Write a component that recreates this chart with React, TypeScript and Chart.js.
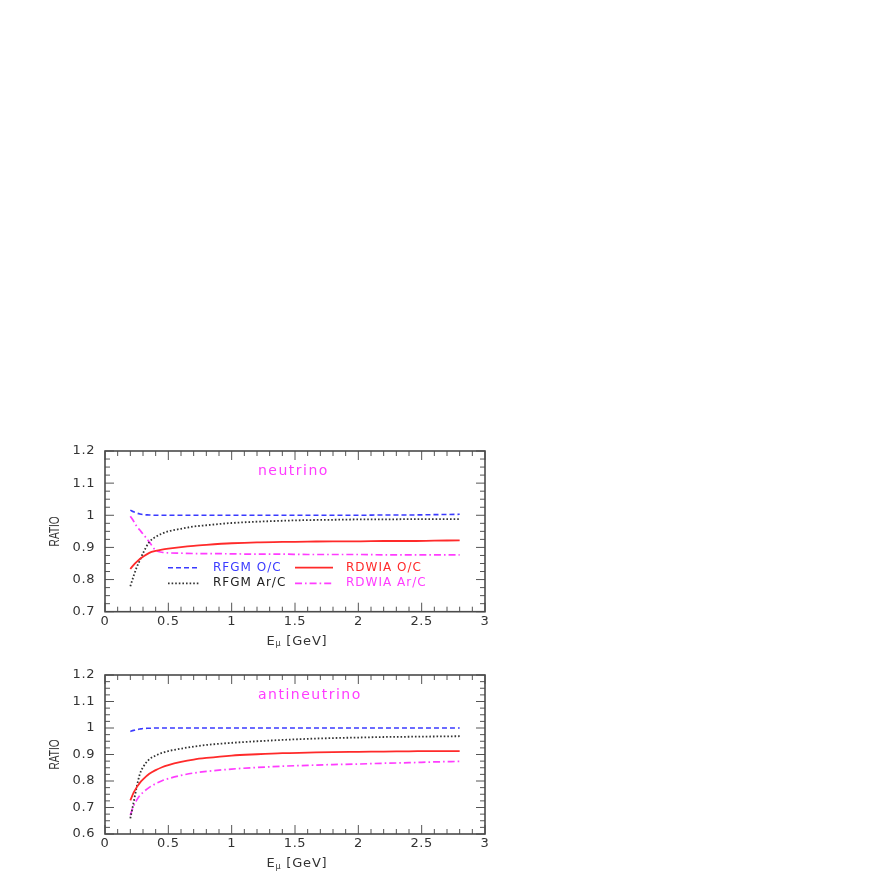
import React, { useEffect, useRef } from "react";
import { Chart, registerables } from "chart.js";

Chart.register(...registerables);

// ---------- data ----------
const energies = [0.2, 0.225, 0.25, 0.275, 0.3, 0.35, 0.4, 0.45, 0.5, 0.6, 0.7, 0.8, 1.0, 1.2, 1.4, 1.6, 1.8, 2.0, 2.2, 2.4, 2.6, 2.8];

const seriesNames = ["RFGM O/C", "RDWIA O/C", "RFGM Ar/C", "RDWIA Ar/C"];

// neutrino panel
const nuRfgmOC = [1.016, 1.011, 1.007, 1.004, 1.002, 1.001, 1.0, 1.0, 1.0, 1.0, 1.0, 1.0, 1.0, 1.0, 1.0, 1.0, 1.0, 1.0, 1.001, 1.001, 1.002, 1.003];
const nuRdwiaOC = [0.833, 0.845, 0.855, 0.864, 0.871, 0.883, 0.889, 0.893, 0.896, 0.901, 0.905, 0.908, 0.913, 0.916, 0.917, 0.918, 0.919, 0.919, 0.92, 0.92, 0.921, 0.922];
const nuRfgmArC = [0.779, 0.81, 0.838, 0.86, 0.882, 0.917, 0.933, 0.943, 0.95, 0.958, 0.965, 0.969, 0.976, 0.98, 0.983, 0.985, 0.986, 0.987, 0.987, 0.988, 0.988, 0.988];
const nuRdwiaArC = [0.997, 0.982, 0.966, 0.954, 0.942, 0.917, 0.891, 0.885, 0.883, 0.882, 0.881, 0.881, 0.88, 0.879, 0.879, 0.878, 0.878, 0.878, 0.877, 0.877, 0.877, 0.877];

// antineutrino panel
const anuRfgmOC = [0.987, 0.991, 0.994, 0.996, 0.998, 0.999, 1.0, 1.0, 1.0, 1.0, 1.0, 1.0, 1.0, 1.0, 1.0, 1.0, 1.0, 1.0, 1.0, 1.0, 1.0, 1.0];
const anuRdwiaOC = [0.727, 0.755, 0.776, 0.793, 0.806, 0.827, 0.841, 0.852, 0.86, 0.872, 0.881, 0.887, 0.896, 0.901, 0.905, 0.907, 0.909, 0.91, 0.911, 0.912, 0.913, 0.913];
const anuRfgmArC = [0.659, 0.717, 0.777, 0.826, 0.852, 0.882, 0.896, 0.906, 0.913, 0.922, 0.93, 0.936, 0.944, 0.95, 0.955, 0.959, 0.962, 0.964, 0.966, 0.967, 0.968, 0.969];
const anuRdwiaArC = [0.671, 0.705, 0.728, 0.745, 0.757, 0.776, 0.79, 0.801, 0.809, 0.821, 0.83, 0.836, 0.845, 0.851, 0.856, 0.859, 0.862, 0.864, 0.867, 0.869, 0.872, 0.874];

// ticks
const xTickValues = [0, 0.5, 1, 1.5, 2, 2.5, 3];
const xTickLabels = ["0", "0.5", "1", "1.5", "2", "2.5", "3"];
const yTickValuesNu = [0.7, 0.8, 0.9, 1.0, 1.1, 1.2];
const yTickLabelsNu = ["0.7", "0.8", "0.9", "1", "1.1", "1.2"];
const yTickValuesAnu = [0.6, 0.7, 0.8, 0.9, 1.0, 1.1, 1.2];
const yTickLabelsAnu = ["0.6", "0.7", "0.8", "0.9", "1", "1.1", "1.2"];

// ---------- styles ----------
const lineStyles = [
  { color: "#3a3aff", dash: [5, 3], width: 1.6 },
  { color: "#ff2a2a", dash: [] as number[], width: 1.8 },
  { color: "#333333", dash: [1.6, 2], width: 1.8 },
  { color: "#ff3cff", dash: [7, 3, 1.6, 3], width: 1.7 },
];
const legendTextColors = ["#3a3aff", "#ff2a2a", "#222222", "#ff3cff"];

const TICK_FONT = { family: "'DejaVu Sans'", size: 13 };

type Panel = {
  key: string;
  title: string;
  yMin: number;
  yMax: number;
  yTicks: number[];
  yLabels: string[];
  series: number[][];
  legend: boolean;
  padTop: number;
  xAxisH: number;
};

const panels: Panel[] = [
  {
    key: "nu",
    title: "neutrino",
    yMin: 0.7,
    yMax: 1.2,
    yTicks: yTickValuesNu,
    yLabels: yTickLabelsNu,
    series: [nuRfgmOC, nuRdwiaOC, nuRfgmArC, nuRdwiaArC],
    legend: true,
    padTop: 21,
    xAxisH: 38.3,
  },
  {
    key: "anu",
    title: "antineutrino",
    yMin: 0.6,
    yMax: 1.2,
    yTicks: yTickValuesAnu,
    yLabels: yTickLabelsAnu,
    series: [anuRfgmOC, anuRdwiaOC, anuRfgmArC, anuRdwiaArC],
    legend: false,
    padTop: 20,
    xAxisH: 38,
  },
];

function framePlugin(p: Panel) {
  return {
    id: "frame_" + p.key,
    beforeDraw(chart: any) {
      (chart.ctx as any).letterSpacing = "0.6px";
    },
    afterDatasetsDraw(chart: any) {
      const ctx: CanvasRenderingContext2D = chart.ctx;
      const a = chart.chartArea;
      const xs = chart.scales.x;
      const ys = chart.scales.y;
      ctx.save();
      (ctx as any).letterSpacing = "0px";
      // ticks (inward, all four sides)
      ctx.strokeStyle = "#555";
      ctx.lineWidth = 1;
      ctx.setLineDash([]);
      ctx.beginPath();
      for (let i = 0; i <= 30; i++) {
        const px = xs.getPixelForValue(i / 10);
        const L = i % 5 === 0 ? 9 : 5;
        ctx.moveTo(px, a.bottom);
        ctx.lineTo(px, a.bottom - L);
        ctx.moveTo(px, a.top);
        ctx.lineTo(px, a.top + L);
      }
      const n = Math.round((p.yMax - p.yMin) / 0.025);
      for (let k = 0; k <= n; k++) {
        const py = ys.getPixelForValue(p.yMin + k * 0.025);
        const L = k % 4 === 0 ? 9 : 5;
        ctx.moveTo(a.left, py);
        ctx.lineTo(a.left + L, py);
        ctx.moveTo(a.right, py);
        ctx.lineTo(a.right - L, py);
      }
      ctx.stroke();
      // frame
      ctx.lineWidth = 1.6;
      ctx.strokeStyle = "#4a4a4a";
      ctx.strokeRect(a.left, a.top, a.right - a.left, a.bottom - a.top);

      // y title
      ctx.save();
      ctx.translate(55.3, (a.top + a.bottom) / 2);
      ctx.rotate(-Math.PI / 2);
      ctx.scale(0.72, 1);
      ctx.font = "14px 'Liberation Sans'";
      ctx.fillStyle = "#333";
      ctx.textAlign = "center";
      ctx.textBaseline = "middle";
      ctx.fillText("RATIO", 0, 0);
      ctx.restore();

      // x title: E_mu [GeV]
      (ctx as any).letterSpacing = "0.8px";
      ctx.fillStyle = "#333";
      ctx.textBaseline = "middle";
      ctx.textAlign = "left";
      const f1 = "13px 'DejaVu Sans'";
      const f2 = "8px 'DejaVu Sans'";
      ctx.font = f1;
      const wE = ctx.measureText("E").width;
      const wRest = ctx.measureText(" [GeV]").width;
      ctx.font = f2;
      const wMu = ctx.measureText("\u03bc").width;
      const total = wE + wMu + wRest;
      let tx = (a.left + a.right) / 2 - total / 2 + 2;
      const ty = a.bottom + 29.5;
      ctx.font = f1;
      ctx.fillText("E", tx, ty);
      tx += wE;
      ctx.font = f2;
      ctx.fillText("\u03bc", tx, ty + 3);
      tx += wMu;
      ctx.font = f1;
      ctx.fillText(" [GeV]", tx, ty);

      // panel label
      (ctx as any).letterSpacing = "1.5px";
      ctx.font = "14px 'DejaVu Sans'";
      ctx.fillStyle = "#ff3cff";
      ctx.fillText(p.title, a.left + 153, a.top + 20.5);

      // legend
      if (p.legend) {
        (ctx as any).letterSpacing = "1px";
        ctx.font = "12px 'DejaVu Sans'";
        const items = [
          { ds: 0, x: 63, len: 32, row: 0 },
          { ds: 1, x: 190, len: 38, row: 0 },
          { ds: 2, x: 63, len: 32, row: 1 },
          { ds: 3, x: 190, len: 38, row: 1 },
        ];
        const rowY = [a.top + 116.7, a.top + 132.3];
        for (const it of items) {
          const st = lineStyles[it.ds];
          const y = rowY[it.row];
          ctx.strokeStyle = st.color;
          ctx.lineWidth = st.width;
          ctx.setLineDash(st.dash);
          ctx.beginPath();
          ctx.moveTo(a.left + it.x, y);
          ctx.lineTo(a.left + it.x + it.len, y);
          ctx.stroke();
          ctx.setLineDash([]);
          ctx.fillStyle = legendTextColors[it.ds];
          ctx.fillText(chart.data.datasets[it.ds].label, a.left + it.x + it.len + 13, y);
        }
      }
      ctx.restore();
    },
  };
}

function buildConfig(p: Panel): any {
  return {
    type: "line",
    data: {
      datasets: p.series.map((s, i) => ({
        label: seriesNames[i],
        data: energies.map((e, j) => ({ x: e, y: s[j] })),
        borderColor: lineStyles[i].color,
        borderDash: lineStyles[i].dash,
        borderWidth: lineStyles[i].width,
        pointRadius: 0,
        fill: false,
        cubicInterpolationMode: "monotone",
      })),
    },
    options: {
      responsive: false,
      animation: false,
      events: [],
      layout: { padding: { top: p.padTop, right: 35, left: 0, bottom: 0 } },
      plugins: {
        legend: { display: false },
        tooltip: { enabled: false },
        title: { display: false },
      },
      scales: {
        x: {
          type: "linear",
          min: 0,
          max: 3,
          grid: { display: false, drawTicks: false },
          border: { display: false },
          afterBuildTicks: (s: any) => {
            s.ticks = xTickValues.map((v) => ({ value: v }));
          },
          afterFit: (s: any) => {
            s.height = p.xAxisH;
          },
          ticks: {
            padding: 2,
            color: "#333",
            font: TICK_FONT,
            maxRotation: 0,
            autoSkip: false,
            callback: (_v: any, idx: number) => xTickLabels[idx],
          },
        },
        y: {
          type: "linear",
          min: p.yMin,
          max: p.yMax,
          grid: { display: false, drawTicks: false },
          border: { display: false },
          afterBuildTicks: (s: any) => {
            s.ticks = p.yTicks.map((v) => ({ value: v }));
          },
          afterFit: (s: any) => {
            s.width = 105;
          },
          ticks: {
            padding: 10,
            color: "#333",
            font: TICK_FONT,
            autoSkip: false,
            callback: (_v: any, idx: number) => p.yLabels[idx],
          },
        },
      },
    },
    plugins: [framePlugin(p)],
  };
}

export default function App() {
  const ref1 = useRef<HTMLCanvasElement>(null);
  const ref2 = useRef<HTMLCanvasElement>(null);
  useEffect(() => {
    const charts = [ref1, ref2].map((r, i) => new Chart(r.current as HTMLCanvasElement, buildConfig(panels[i])));
    return () => charts.forEach((c) => c.destroy());
  }, []);
  return (
    <div style={{ position: "absolute", left: 0, top: 0, width: 872, height: 872, background: "#fff" }}>
      <canvas ref={ref1} width={520} height={220} style={{ position: "absolute", left: 0, top: 430, width: 520, height: 220 }} />
      <canvas ref={ref2} width={520} height={217} style={{ position: "absolute", left: 0, top: 655, width: 520, height: 217 }} />
    </div>
  );
}
